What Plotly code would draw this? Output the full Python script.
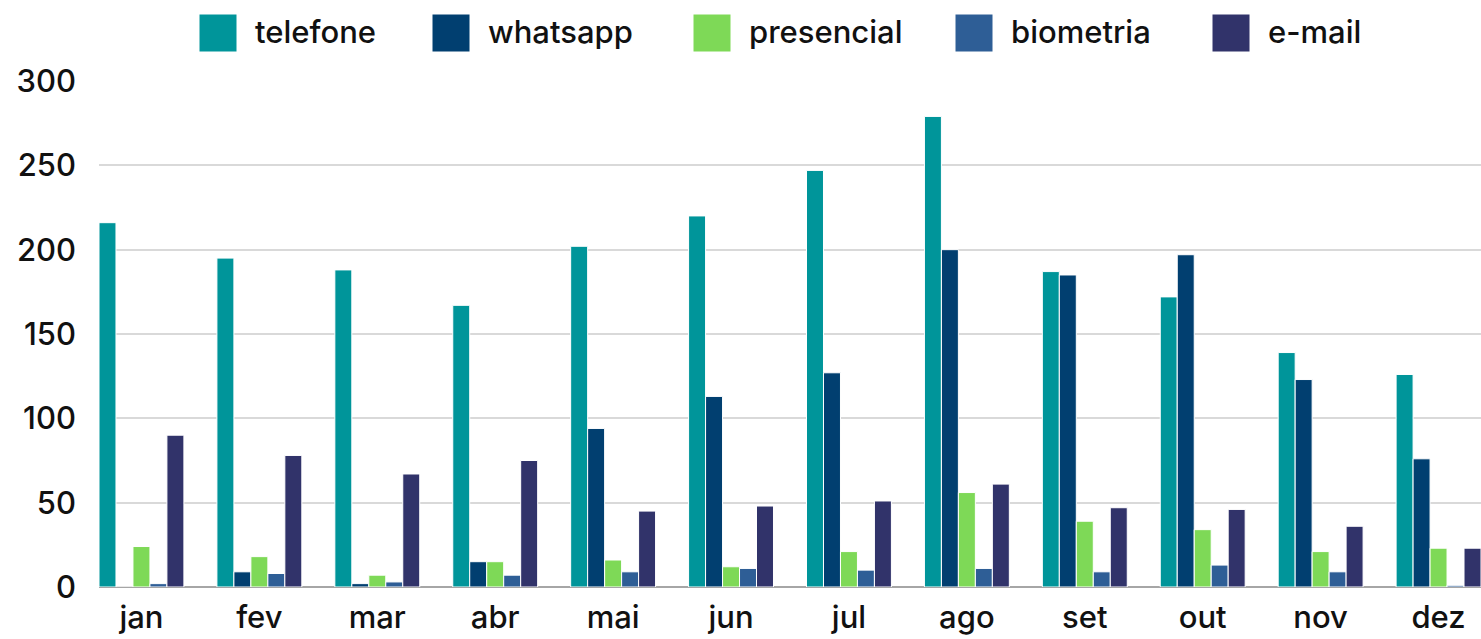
import plotly.graph_objects as go

months = ["jan", "fev", "mar", "abr", "mai", "jun", "jul", "ago", "set", "out", "nov", "dez"]
series_names = ["telefone", "whatsapp", "presencial", "biometria", "e-mail"]
telefone = [216, 195, 188, 167, 202, 220, 247, 279, 187, 172, 139, 126]
whatsapp = [0, 9, 2, 15, 94, 113, 127, 200, 185, 197, 123, 76]
presencial = [24, 18, 7, 15, 16, 12, 21, 56, 39, 34, 21, 23]
biometria = [2, 8, 3, 7, 9, 11, 10, 11, 9, 13, 9, 1]
email = [90, 78, 67, 75, 45, 48, 51, 61, 47, 46, 36, 23]
colors = ["#00959A", "#013F70", "#7ED957", "#2E5E96", "#31336A"]
y_ticks = [0, 50, 100, 150, 200, 250, 300]

W, H = 1481, 639
ML, MR, MT, MB = 99, 0, 81, 52
FONT = "Inter, Open Sans, sans-serif"

fig = go.Figure()
for name, vals, col in zip(series_names, [telefone, whatsapp, presencial, biometria, email], colors):
    fig.add_trace(go.Bar(
        x=months, y=vals, name=name, marker_color=col,
        marker_line_color="white", marker_line_width=1, showlegend=False,
    ))

# custom legend with large swatches (positions given in screen pixels)
def px_to_paper_x(px):
    return (px - ML) / (W - ML - MR)

def px_to_paper_y(py):
    return (H - MB - py) / (H - MT - MB)

swatch_left = [199, 432, 693, 955, 1212]
shapes = []
annotations = []
for name, col, xl in zip(series_names, colors, swatch_left):
    shapes.append(dict(type="rect", xref="paper", yref="paper",
                       x0=px_to_paper_x(xl), x1=px_to_paper_x(xl + 38),
                       y0=px_to_paper_y(52), y1=px_to_paper_y(14),
                       fillcolor=col, line=dict(color="white", width=1), layer="above"))
    annotations.append(dict(xref="paper", yref="paper", x=px_to_paper_x(xl + 54),
                            y=px_to_paper_y(32), text=name, showarrow=False,
                            xanchor="left", yanchor="middle",
                            font=dict(size=31, color="#111111", family=FONT, weight=500)))

fig.update_layout(
    width=W, height=H,
    margin=dict(l=ML, r=MR, t=MT, b=MB, autoexpand=False),
    paper_bgcolor="white", plot_bgcolor="white",
    barmode="group", bargap=0.28, bargroupgap=0,
    shapes=shapes, annotations=annotations,
    font=dict(family=FONT, size=30, color="#111111"),
)
fig.update_xaxes(range=[-0.36, 11.36], showgrid=False, showline=False, automargin=False,
                 tickfont=dict(size=31, color="#111111", family=FONT, weight=500), ticks="",
                 ticklabelstandoff=9)
fig.update_yaxes(range=[0, 300], tickvals=y_ticks, showgrid=True, automargin=False,
                 gridcolor="#D9D9D9", gridwidth=1.5, zeroline=True,
                 zerolinecolor="#A6A6A6", zerolinewidth=1.5,
                 tickfont=dict(size=31, color="#111111", family=FONT, weight=500), ticks="",
                 ticklabelstandoff=22)

fig.write_html(
    "out.html",
    config={"displayModeBar": False},
    post_script="document.body.style.margin='0';document.body.style.overflow='hidden';",
)
